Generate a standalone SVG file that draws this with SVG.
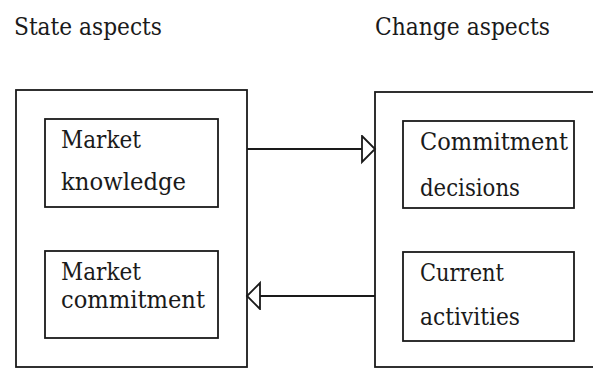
<svg xmlns="http://www.w3.org/2000/svg" width="593" height="370" viewBox="0 0 593 370">
  <style>
    .box { fill: none; stroke: #1a1a1a; stroke-width: 1.8; }
    .lbl { font-family: 'DejaVu Serif', serif; font-size: 24px; fill: #1a1a1a; }
    .conn { fill: none; stroke: #1a1a1a; stroke-width: 1.8; }
  </style>
  <defs>
    <marker id="openTri" markerWidth="16" markerHeight="30" refX="14" refY="14" orient="auto" markerUnits="userSpaceOnUse">
      <path d="M1,1 L14,14 L1,27 Z" fill="#fff" stroke="#1a1a1a" stroke-width="1.8"/>
    </marker>
  </defs>
  <rect width="593" height="370" fill="#fff"/>

  <text class="lbl" x="14" y="35" textLength="148" lengthAdjust="spacingAndGlyphs">State aspects</text>
  <text class="lbl" x="375" y="35" textLength="175" lengthAdjust="spacingAndGlyphs">Change aspects</text>

  <g id="state-aspects">
    <rect class="box" x="16" y="90" width="231" height="277"/>
  </g>
  <g id="change-aspects">
    <rect class="box" x="375" y="92" width="240" height="275"/>
  </g>

  <g id="market-knowledge">
    <rect class="box" x="45" y="119" width="173" height="88"/>
    <text class="lbl" x="61" y="148" textLength="80" lengthAdjust="spacingAndGlyphs">Market</text>
    <text class="lbl" x="61" y="190" textLength="125" lengthAdjust="spacingAndGlyphs">knowledge</text>
  </g>
  <g id="market-commitment">
    <rect class="box" x="45" y="251" width="173" height="87"/>
    <text class="lbl" x="61" y="280" textLength="80" lengthAdjust="spacingAndGlyphs">Market</text>
    <text class="lbl" x="61" y="308" textLength="144" lengthAdjust="spacingAndGlyphs">commitment</text>
  </g>
  <g id="commitment-decisions">
    <rect class="box" x="403" y="121" width="171" height="87"/>
    <text class="lbl" x="420" y="150" textLength="148" lengthAdjust="spacingAndGlyphs">Commitment</text>
    <text class="lbl" x="420" y="196" textLength="100" lengthAdjust="spacingAndGlyphs">decisions</text>
  </g>
  <g id="current-activities">
    <rect class="box" x="403" y="252" width="171" height="89"/>
    <text class="lbl" x="420" y="281" textLength="84" lengthAdjust="spacingAndGlyphs">Current</text>
    <text class="lbl" x="420" y="325" textLength="100" lengthAdjust="spacingAndGlyphs">activities</text>
  </g>

  <g id="connectors">
    <line class="conn" x1="247" y1="149" x2="375" y2="149" marker-end="url(#openTri)"/>
    <line class="conn" x1="375" y1="296" x2="247" y2="296" marker-end="url(#openTri)"/>
  </g>
</svg>
